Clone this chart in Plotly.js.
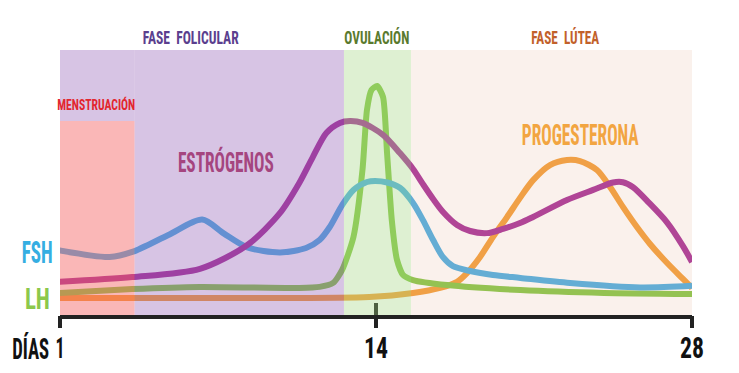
<!DOCTYPE html>
<html>
<head>
<meta charset="utf-8">
<script src="https://cdn.plot.ly/plotly-3.0.1.min.js"></script>
<style>html,body{margin:0;padding:0;background:#fff;}#chart{width:739px;height:373px;}</style>
</head>
<body>
<div id="chart"></div>
<script>
// Days elapsed in the cycle (0 = start of day 1), hormone levels in relative units (0-100)
var fshDays = [-0.1, 2.2, 3.2, 4.8, 6.3, 7.25, 8.3, 9.75, 10.9, 11.5, 11.95, 12.5, 13.0, 13.6, 13.96, 14.5, 15.06, 15.64, 16.08, 16.53, 16.97, 17.41, 18.17, 19.18, 20.4, 22.6, 25.7, 28.0];
var fshLevel = [24.5, 21.9, 23.8, 30.2, 36.0, 30.8, 25.5, 23.6, 25.3, 28.3, 33.2, 41.5, 47.2, 50.2, 50.6, 50.0, 48.0, 42.3, 35.8, 28.3, 21.8, 18.4, 16.6, 15.1, 14.0, 12.1, 10.4, 11.0];

var estDays = [-0.1, 3.2, 6.2, 8.3, 9.75, 10.6, 11.2, 11.8, 12.4, 12.85, 13.4, 14.31, 15.06, 15.64, 16.08, 16.53, 16.97, 17.59, 18.17, 18.92, 19.63, 20.38, 20.96, 22.46, 23.62, 24.5, 24.94, 25.39, 26.1, 26.9, 27.6, 28.0];
var estLevel = [12.5, 14.3, 17.4, 26.4, 38.5, 49.8, 59.6, 68.7, 72.5, 73.2, 72.5, 68.0, 61.1, 55.1, 49.4, 43.8, 38.9, 34.0, 31.7, 30.9, 32.5, 34.7, 37.0, 43.4, 47.2, 50.0, 50.1, 48.2, 42.3, 34.9, 26.0, 20.0];

var lhDays = [-0.1, 3.2, 6.2, 10.6, 11.5, 12.1, 12.5, 13.0, 13.4, 13.6, 13.8, 14.05, 14.31, 14.49, 14.7, 14.93, 15.2, 15.64, 17.15, 20.4, 24.1, 28.0];
var lhLevel = [8.3, 9.8, 10.6, 10.2, 10.6, 12.1, 17.0, 29.4, 54.7, 77.4, 84.9, 86.4, 82.3, 61.1, 35.8, 20.8, 15.1, 13.2, 11.3, 9.4, 8.3, 7.9];

var progDays = [-0.1, 3.2, 8.4, 13.7, 15.64, 16.84, 17.59, 18.03, 18.61, 19.18, 19.81, 20.38, 20.96, 21.71, 22.46, 23.04, 23.79, 24.37, 24.94, 25.56, 26.14, 26.9, 27.6, 28.0];
var progLevel = [6.4, 6.4, 6.4, 6.8, 8.3, 10.2, 12.5, 15.8, 21.9, 29.4, 37.0, 44.2, 50.9, 56.6, 58.5, 58.1, 54.7, 48.3, 40.8, 33.2, 26.8, 19.6, 13.6, 10.2];

var tickDays = [0, 14, 28];
var tickLabels = ['1', '14', '28'];

var phaseNames = ['FASE  FOLICULAR', 'OVULACIÓN', 'FASE  LÚTEA'];
var phaseStart = [-0.1, 12.58, 15.55];
var phaseEnd = [12.58, 15.55, 28.1];
var mensName = 'MENSTRUACIÓN';
var mensStart = -0.1, mensEnd = 3.3, mensTop = 73.2;

var FONT = '"Roboto Condensed", "DejaVu Sans Condensed", "Liberation Sans Narrow", "DejaVu Sans", sans-serif';

function line(x, y, color, sm) {
  return {x: x, y: y, type: 'scatter', mode: 'lines', hoverinfo: 'skip',
    line: {color: color, width: 6, shape: 'spline', smoothing: sm}, showlegend: false};
}
var traces = [
  line(progDays, progLevel, '#f4a03c', 0.8),
  line(lhDays, lhLevel, '#88c84a', 0.6),
  line(fshDays, fshLevel, '#4fb0e3', 0.8),
  line(estDays, estLevel, '#a8359a', 0.8)
];

var phaseFill = ['rgba(141,86,178,0.35)', 'rgba(161,212,126,0.35)', 'rgba(222,162,128,0.15)'];
var shapes = [];
shapes.push({type: 'rect', xref: 'x', yref: 'y', x0: phaseStart[0], x1: mensEnd, y0: mensTop, y1: 100, fillcolor: phaseFill[0], line: {width: 0}, layer: 'above'});
shapes.push({type: 'rect', xref: 'x', yref: 'y', x0: mensEnd, x1: phaseEnd[0], y0: 0, y1: 100, fillcolor: phaseFill[0], line: {width: 0}, layer: 'above'});
for (var i = 1; i < 3; i++) {
  shapes.push({type: 'rect', xref: 'x', yref: 'y', x0: phaseStart[i], x1: phaseEnd[i], y0: 0, y1: 100, fillcolor: phaseFill[i], line: {width: 0}, layer: 'above'});
}
shapes.push({type: 'rect', xref: 'x', yref: 'y', x0: mensStart, x1: mensEnd, y0: 0, y1: mensTop, fillcolor: 'rgba(244,95,95,0.45)', line: {width: 0}, layer: 'above'});

var annotations = [];
var annWidths = [];
function lab(t, x, y, size, color, w) {
  annotations.push({text: t, xref: 'paper', yref: 'paper', x: x, y: y, showarrow: false,
    xanchor: 'center', yanchor: 'middle', font: {family: FONT, size: size, color: color, weight: 'bold'}});
  annWidths.push(w);
}
var phaseColors = ['#5b3f8e', '#5a7a2e', '#c2612a'];
var phaseX = [0.206, 0.502, 0.80];
var phaseW = [96, 65, 68];
for (var j = 0; j < 3; j++) lab(phaseNames[j], phaseX[j], 1.049, 18, phaseColors[j], phaseW[j]);
lab(mensName, 0.0585, 0.792, 15, '#e3262f', 78);
lab('ESTRÓGENOS', 0.263, 0.574, 28, '#a5457f', 96);
lab('PROGESTERONA', 0.823, 0.683, 30, '#f2a541', 117);
lab('FSH', -0.036, 0.234, 31, '#35aee2', 31);
lab('LH', -0.035, 0.064, 30, '#8cc84b', 25);
lab('DÍAS', -0.047, -0.125, 30, '#111111', 37);

var tickWidths = {'1': 9, '14': 24, '28': 24};

var layout = {
  width: 739, height: 373,
  margin: {l: 60, r: 47, t: 50, b: 58},
  paper_bgcolor: '#ffffff', plot_bgcolor: '#ffffff',
  showlegend: false,
  xaxis: {range: [0, 28], showgrid: false, zeroline: false, showline: true, linecolor: '#222222', linewidth: 4,
    tickmode: 'array', tickvals: tickDays, ticktext: tickLabels, ticks: 'inside', ticklen: 12, tickwidth: 4, tickcolor: '#222222',
    ticklabelstandoff: 3,
    tickfont: {family: FONT, size: 30, color: '#111111', weight: 'bold'}, fixedrange: true},
  xaxis2: {range: [0, 28], overlaying: 'x', anchor: 'y', side: 'bottom', showgrid: false, zeroline: false, showline: false,
    tickmode: 'array', tickvals: tickDays, ticktext: tickLabels, ticks: 'outside', ticklen: 12, tickwidth: 4, tickcolor: '#222222',
    showticklabels: false},
  yaxis: {range: [0, 100], visible: false, fixedrange: true},
  shapes: shapes,
  annotations: annotations
};
traces.push({x: [0], y: [0], xaxis: 'x2', type: 'scatter', mode: 'markers', marker: {opacity: 0}, hoverinfo: 'skip', showlegend: false});

// horizontally condense a centred text element to a target width
function condense(t, w) {
  var natural = t.getComputedTextLength();
  if (!natural || !w) return;
  var s = w / natural;
  var cx = parseFloat(t.getAttribute('x')) || 0;
  var prev = t.getAttribute('transform') || '';
  t.setAttribute('transform', prev + ' translate(' + cx + ',0) scale(' + s + ',1) translate(' + (-cx) + ',0)');
}

Plotly.newPlot('chart', traces, layout, {displayModeBar: false, staticPlot: true}).then(function (gd) {
  gd.querySelectorAll('g.annotation').forEach(function (g) {
    var idx = +g.getAttribute('data-index');
    var t = g.querySelector('text.annotation-text');
    var w = annWidths[idx];
    if (t && w) {
      condense(t, w);
      var r = g.querySelector('rect.bg');
      if (r) {
        var w0 = parseFloat(r.getAttribute('width')) || 0;
        var x0 = parseFloat(r.getAttribute('x')) || 0;
        var nw = Math.min(w0, w + 2);
        r.setAttribute('x', x0 + (w0 - nw) / 2);
        r.setAttribute('width', nw);
      }
    }
  });
  gd.querySelectorAll('g.xtick text').forEach(function (t) {
    condense(t, tickWidths[t.textContent]);
  });
});
</script>
</body>
</html>
